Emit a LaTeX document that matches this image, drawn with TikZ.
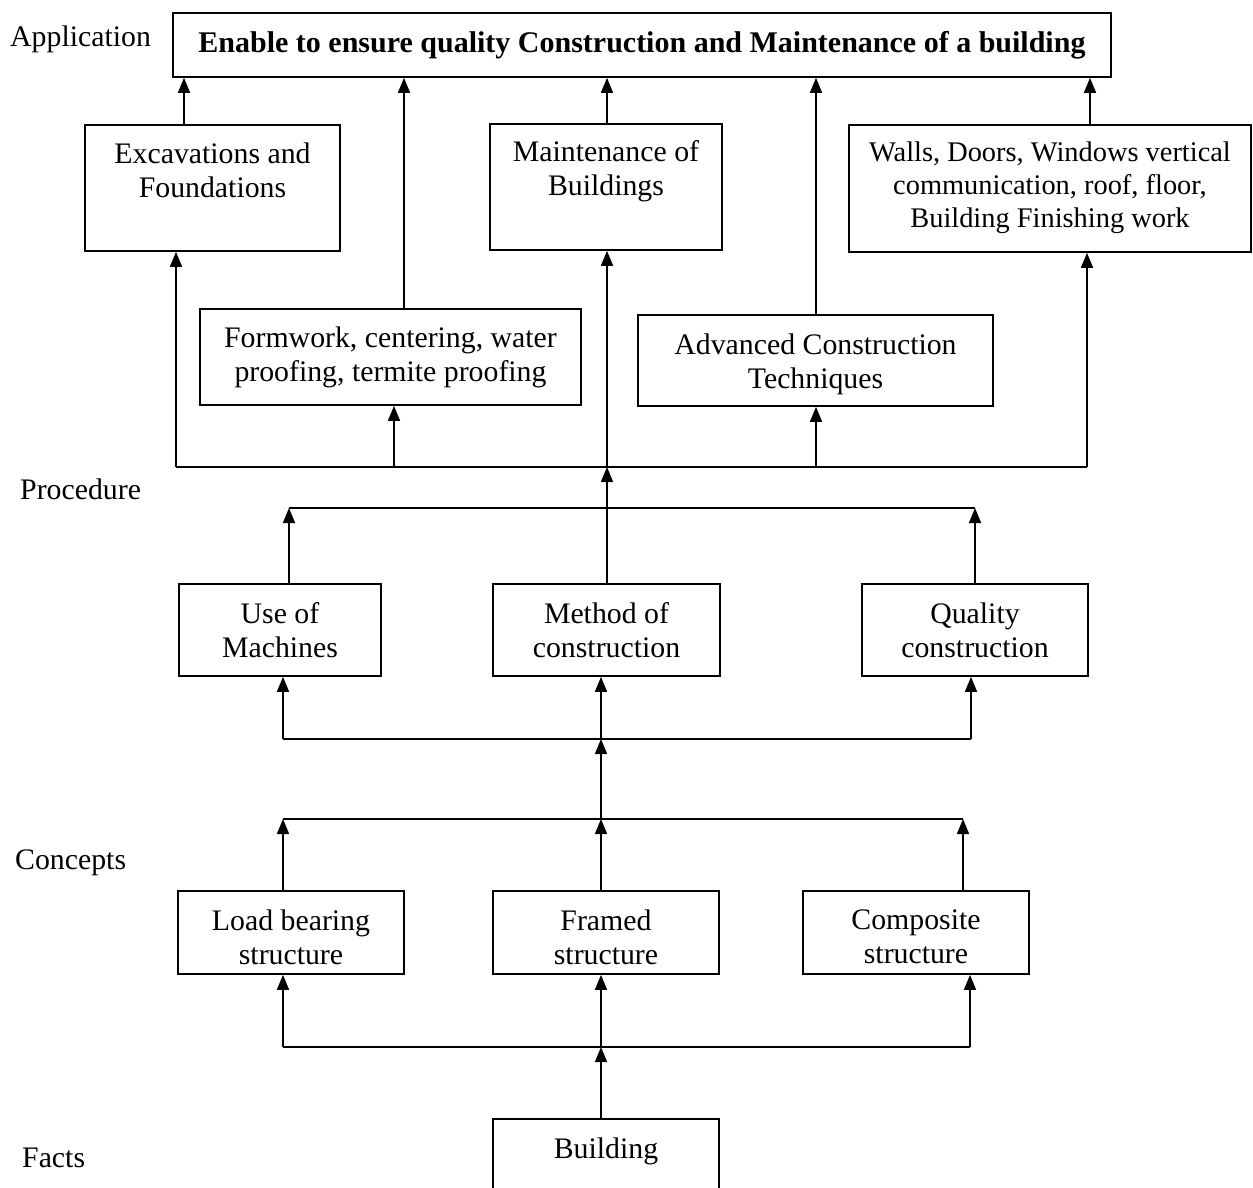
\documentclass[tikz,border=0pt]{standalone}
\usepackage{fontspec}
\setmainfont{Liberation Serif}
\usetikzlibrary{arrows.meta}
\begin{document}
\begin{tikzpicture}[x=1pt,y=-1pt,
  every node/.style={font=\fontsize{29.8}{34.5}\selectfont},
  box/.style={draw, line width=1.7pt, inner sep=0pt, rectangle},
  txt/.style={anchor=north, align=center, inner sep=0pt},
  lbl/.style={anchor=base west, inner sep=0pt},
  ln/.style={line width=1.6pt},
  arr/.style={line width=1.6pt, -{Triangle[length=15pt,width=12pt]}}]
\useasboundingbox[fill=white] (0,0) rectangle (1253,1188);

% labels
\node[lbl] (lapp) at (10,47) {Application};
\node[lbl] (lproc) at (20,499) {Procedure};
\node[lbl] (lconc) at (15,869) {Concepts};
\node[lbl] (lfact) at (22,1167) {Facts};

% boxes
\node[box, minimum width=938pt, minimum height=64pt, font=\fontsize{30}{34}\selectfont\bfseries] (title) at (642,45)
  {Enable to ensure quality Construction and Maintenance of a building};

\node[box, minimum width=255pt, minimum height=126pt] (excav) at (212.5,188) {};
\node[txt] (excavT) at ([yshift=-18pt]excav.north) {Excavations and\\Foundations};

\node[box, minimum width=232pt, minimum height=126pt] (maint) at (606,187) {};
\node[txt] (maintT) at ([yshift=-17pt]maint.north) {Maintenance of\\Buildings};

\node[box, minimum width=402pt, minimum height=127pt] (walls) at (1050,188.5) {};
\node[txt, font=\fontsize{28.4}{33}\selectfont] (wallsT) at ([yshift=-17.5pt]walls.north) {Walls, Doors, Windows vertical\\communication, roof, floor,\\Building Finishing work};

\node[box, minimum width=381pt, minimum height=96pt] (form) at (390.5,357) {};
\node[txt] (formT) at ([yshift=-18pt]form.north) {Formwork, centering, water\\proofing, termite proofing};

\node[box, minimum width=355pt, minimum height=91pt] (adv) at (815.5,360.5) {};
\node[txt] (advT) at ([yshift=-19pt]adv.north) {Advanced Construction\\Techniques};

\node[box, minimum width=202pt, minimum height=92pt] (use) at (280,630) {};
\node[txt] (useT) at ([yshift=-19pt]use.north) {Use of\\Machines};

\node[box, minimum width=227pt, minimum height=92pt] (method) at (606.5,630) {};
\node[txt] (methodT) at ([yshift=-19pt]method.north) {Method of\\construction};

\node[box, minimum width=226pt, minimum height=92pt] (quality) at (975,630) {};
\node[txt] (qualityT) at ([yshift=-19pt]quality.north) {Quality\\construction};

\node[box, minimum width=226pt, minimum height=83pt] (load) at (291,932.5) {};
\node[txt] (loadT) at ([yshift=-19pt]load.north) {Load bearing\\structure};

\node[box, minimum width=226pt, minimum height=83pt] (framed) at (606,932.5) {};
\node[txt] (framedT) at ([yshift=-19pt]framed.north) {Framed\\structure};

\node[box, minimum width=226pt, minimum height=83pt] (comp) at (916,932.5) {};
\node[txt] (compT) at ([yshift=-19pt]comp.north) {Composite\\structure};

\node[box, minimum width=226pt, minimum height=90pt] (bldg) at (606,1164) {};
\node[txt] (bldgT) at ([yshift=-19pt]bldg.north) {Building};

% x positions
\coordinate (xA) at (184,0);
\coordinate (xF) at (404,0);
\coordinate (xFb) at (394,0);
\coordinate (xM) at (607,0);
\coordinate (xAdv) at (816,0);
\coordinate (xW) at (1090,0);
\coordinate (xC) at (601,0);

% to title
\draw[arr] (excav.north -| xA) -- (title.south -| xA);
\draw[arr] (form.north -| xF) -- (title.south -| xF);
\draw[arr] (maint.north -| xM) -- (title.south -| xM);
\draw[arr] (adv.north -| xAdv) -- (title.south -| xAdv);
\draw[arr] (walls.north -| xW) -- (title.south -| xW);

% upper bus
\coordinate (ubL) at (176,467);
\coordinate (ubR) at (1087,467);
\draw[ln] (ubL) -- (ubR);
\draw[arr] (ubL) -- (excav.south -| ubL);
\draw[arr] (ubL -| xFb) -- (form.south -| xFb);
\draw[arr] (ubL -| xAdv) -- (adv.south -| xAdv);
\draw[arr] (ubR) -- (walls.south -| ubR);
\draw[arr] (method.north -| xM) -- (ubL -| xM);
\draw[arr] (ubL -| xM) -- (maint.south -| xM);

% procedure bus
\coordinate (pbL) at (289,508);
\coordinate (pbR) at (975,508);
\draw[ln] (pbL) -- (pbR);
\draw[arr] (use.north -| pbL) -- (pbL);
\draw[arr] (quality.north -| pbR) -- (pbR);

% lower bus
\coordinate (lbL) at (283,739);
\coordinate (lbR) at (971,739);
\draw[ln] (lbL) -- (lbR);
\draw[arr] (lbL) -- (use.south -| lbL);
\draw[arr] (lbL -| xC) -- (method.south -| xC);
\draw[arr] (lbR) -- (quality.south -| lbR);

% concept bus
\coordinate (cbL) at (283,819);
\coordinate (cbR) at (963,819);
\draw[ln] (cbL) -- (cbR);
\draw[arr] (cbL -| xC) -- (lbL -| xC);
\draw[arr] (load.north -| cbL) -- (cbL);
\draw[arr] (framed.north -| xC) -- (cbL -| xC);
\draw[arr] (comp.north -| cbR) -- (cbR);

% bottom bus
\coordinate (bbL) at (283,1047);
\coordinate (bbR) at (970,1047);
\draw[ln] (bbL) -- (bbR);
\draw[arr] (bbL) -- (load.south -| bbL);
\draw[arr] (bbL -| xC) -- (framed.south -| xC);
\draw[arr] (bbR) -- (comp.south -| bbR);
\draw[arr] (bldg.north -| xC) -- (bbL -| xC);
\end{tikzpicture}
\end{document}
